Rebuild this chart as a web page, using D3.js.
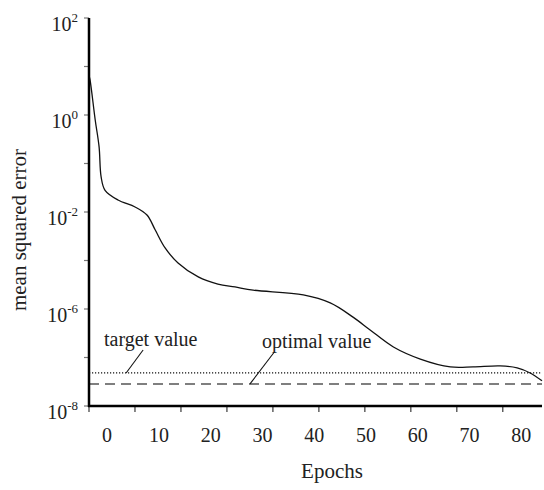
<!DOCTYPE html>
<html>
<head>
<meta charset="utf-8">
<script src="https://cdn.jsdelivr.net/npm/d3@7"></script>
<style>
    body { margin: 0; background: #fff; }
    svg text { font-family: "Liberation Serif", "Times New Roman", serif; fill: #222; }
</style>
</head>
<body>
<div id="chart"></div>
<script>
// Training curve (epoch, mean squared error)
const epochs = [-3.5, -3.3, -2.3, -1.55, -1.16, -0.4, 2.1, 5.4, 7.7, 9.3, 11.2, 13.7, 17.6, 21.4, 24.7,
    28.2, 37.9, 43.1, 47.5, 50.8, 55.3, 60.5, 66.3, 70.7, 75.9, 79.2, 81.7, 84.0];
const mse = [6.5, 5.3, 0.79, 0.22, 0.053, 0.028, 0.0177, 0.0127, 0.0075, 1.8e-3, 3.3e-4, 7.9e-5, 2.1e-5, 1.07e-5, 8.1e-6,
    6.0e-6, 3.8e-6, 1.78e-6, 6.8e-7, 3.7e-7, 1.65e-7, 9.3e-8, 6.4e-8, 6.4e-8, 6.7e-8, 6.1e-8, 4.8e-8, 3.3e-8];

// Reference levels
const targetValue = 4.8e-8;
const optimalValue = 2.85e-8;

// Axis labels as printed (the y axis is not uniform between labels)
const yLabelValues = [1e2, 1, 1e-2, 1e-6, 1e-8];
const yLabelExponents = ['2', '0', '-2', '-6', '-8'];
const yMinorValues = [10, 1e-1, 1e-4, 1e-7];
const xLabelValues = [0, 10, 20, 30, 40, 50, 60, 70, 80];
const xTickValues = [-3.5, 5.38, 14.26, 23.14, 32.02, 40.9, 49.78, 58.66, 67.54, 76.42];

// Annotations
const annotations = [
    { text: 'target value', tx: -0.6, ty: 1.75e-7, from: [6.95, 1.43e-7], to: [3.67, targetValue] },
    { text: 'optimal value', tx: 29.9, ty: 1.55e-7, from: [32.3, 1.3e-7], to: [27.6, optimalValue] }
];

const width = 544, height = 490;
const plotLeft = 89, plotRight = 542, plotTop = 18, plotBottom = 406;

const svg = d3.select('#chart').append('svg')
    .attr('width', width)
    .attr('height', height);

const x = d3.scaleLinear().domain([-3.5, 84]).range([plotLeft, plotRight]);
const y = d3.scaleLog()
    .domain([1e-8, 1e-6, 1e-2, 1, 1e2])
    .range([plotBottom, 309, 212, 115, plotTop]);

// Reference lines
svg.append('line')
    .attr('x1', plotLeft).attr('x2', plotRight)
    .attr('y1', y(targetValue)).attr('y2', y(targetValue))
    .attr('stroke', '#111').attr('stroke-width', 1.2)
    .attr('stroke-dasharray', '1.2,1.8');

svg.append('line')
    .attr('x1', plotLeft).attr('x2', plotRight)
    .attr('y1', y(optimalValue)).attr('y2', y(optimalValue))
    .attr('stroke', '#555').attr('stroke-width', 1.6)
    .attr('stroke-dasharray', '10,6');

// Curve
const line = d3.line()
    .x((d, i) => x(epochs[i]))
    .y(d => y(d))
    .curve(d3.curveCatmullRom.alpha(0.5));

svg.append('path')
    .datum(mse)
    .attr('d', line)
    .attr('fill', 'none')
    .attr('stroke', '#111')
    .attr('stroke-width', 1.3);

// Annotations
annotations.forEach(a => {
    svg.append('line')
        .attr('x1', x(a.from[0])).attr('y1', y(a.from[1]))
        .attr('x2', x(a.to[0])).attr('y2', y(a.to[1]))
        .attr('stroke', '#111').attr('stroke-width', 1.1);
    svg.append('text')
        .attr('x', x(a.tx)).attr('y', y(a.ty))
        .attr('font-size', 20)
        .text(a.text);
});

// Y axis
const yAxis = svg.append('g');
yAxis.selectAll('.tick')
    .data(yLabelValues.concat(yMinorValues))
    .enter().append('line')
    .attr('x1', plotLeft - 5).attr('x2', plotLeft)
    .attr('y1', d => y(d)).attr('y2', d => y(d))
    .attr('stroke', '#777').attr('stroke-width', 1.2);

const yLabels = yAxis.selectAll('.ylabel')
    .data(yLabelValues)
    .enter().append('text')
    .attr('x', 78)
    .attr('y', d => y(d) + 13)
    .attr('text-anchor', 'end')
    .attr('font-size', 20);
yLabels.append('tspan').text('10');
yLabels.append('tspan')
    .attr('dy', -9)
    .attr('font-size', 13)
    .text((d, i) => yLabelExponents[i]);

yAxis.append('line')
    .attr('x1', plotLeft).attr('x2', plotLeft)
    .attr('y1', plotTop).attr('y2', plotBottom + 1)
    .attr('stroke', '#000').attr('stroke-width', 2.5);

// X axis
const xAxis = svg.append('g');
xAxis.selectAll('.tick')
    .data(xTickValues)
    .enter().append('line')
    .attr('x1', d => x(d)).attr('x2', d => x(d))
    .attr('y1', plotBottom).attr('y2', plotBottom + 6)
    .attr('stroke', '#555').attr('stroke-width', 1.4);

xAxis.selectAll('.xlabel')
    .data(xLabelValues)
    .enter().append('text')
    .attr('x', d => x(d))
    .attr('y', 442)
    .attr('text-anchor', 'middle')
    .attr('font-size', 20)
    .text(d => d);

xAxis.append('line')
    .attr('x1', plotLeft - 1).attr('x2', plotRight)
    .attr('y1', plotBottom).attr('y2', plotBottom)
    .attr('stroke', '#000').attr('stroke-width', 2.5);

// Axis titles
svg.append('text')
    .attr('x', 332).attr('y', 478)
    .attr('text-anchor', 'middle')
    .attr('font-size', 21)
    .text('Epochs');

svg.append('text')
    .attr('transform', 'translate(26,230) rotate(-90)')
    .attr('text-anchor', 'middle')
    .attr('font-size', 21)
    .text('mean squared error');
</script>
</body>
</html>
